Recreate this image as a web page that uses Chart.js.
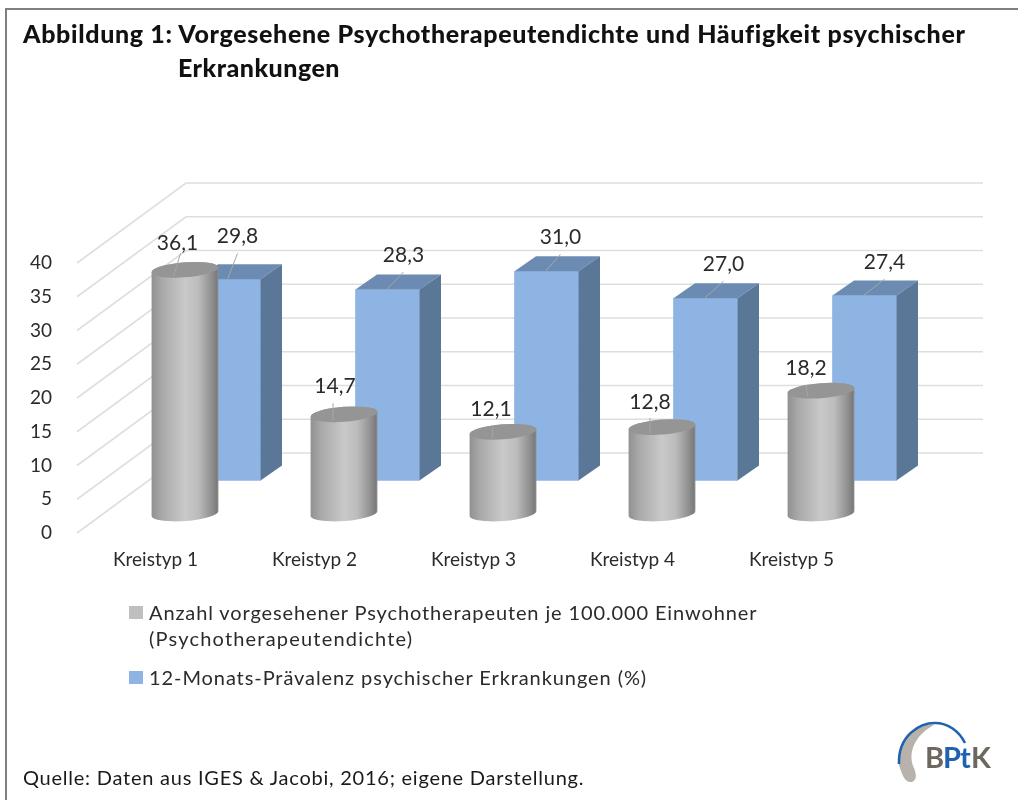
<!DOCTYPE html>
<html lang="de">
<head>
<meta charset="utf-8">
<title>Abbildung 1</title>
<script src="https://cdn.jsdelivr.net/npm/chart.js@4"></script>
<style>
    html, body { margin: 0; padding: 0; background: #fff; }
    #page { position: relative; width: 1018px; height: 800px; overflow: hidden; font-family: Lato, sans-serif; color: #2b2b2b; filter: blur(0.5px); }
    #page::before { content: ""; position: absolute; left: 5px; top: 8px; right: 0; bottom: 0; border-left: 2px solid #808080; border-top: 2px solid #808080; }
    canvas { position: absolute; left: 0; top: 0; }
    .line { position: absolute; white-space: nowrap; line-height: 1; transform: translateY(-50%); }
    .title { font-weight: 900; font-size: 25px; color: #111; }
    .legend { font-size: 20px; }
    .source { font-size: 20px; color: #1a1a1a; }
    .swatch { position: absolute; width: 14px; height: 13px; }
</style>
</head>
<body>
<div id="page">
    <canvas id="chart" width="1018" height="800"></canvas>
    <div class="line title" data-width="942" style="left:23px; top:33px">Abbildung 1: Vorgesehene Psychotherapeutendichte und Häufigkeit psychischer</div>
    <div class="line title" data-width="162" style="left:178px; top:67px">Erkrankungen</div>
    <div class="swatch" id="swatch0" style="left:129px; top:606px"></div>
    <div class="line legend" id="legend0a" data-width="608" style="left:149px; top:612px"></div>
    <div class="line legend" id="legend0b" data-width="264" style="left:149px; top:638px"></div>
    <div class="swatch" id="swatch1" style="left:129px; top:671px"></div>
    <div class="line legend" id="legend1" data-width="498" style="left:149px; top:677px"></div>
    <div class="line source" data-width="561" style="left:23px; top:777px">Quelle: Daten aus IGES &amp; Jacobi, 2016; eigene Darstellung.</div>
</div>
<script>
// values
const categories = ["Kreistyp 1", "Kreistyp 2", "Kreistyp 3", "Kreistyp 4", "Kreistyp 5"];
const therapeutenDichte = [36.1, 14.7, 12.1, 12.8, 18.2];
const praevalenz = [29.8, 28.3, 31.0, 27.0, 27.4];
const dichteName = ["Anzahl vorgesehener Psychotherapeuten je 100.000 Einwohner", "(Psychotherapeutendichte)"];
const praevalenzName = "12-Monats-Prävalenz psychischer Erkrankungen (%)";

const GRAY = "#bfbfbf";
const BLUE = "#8db4e2";
const BLUE_TOP = "#6c8bb3";
const BLUE_SIDE = "#5b7797";
const GRID = "#dedede";
const TEXT = "#2b2b2b";

// fake 3D: the axis is the front edge, the wall sits behind it
const WALL_DX = 110, WALL_DY = -80, WALL_RIGHT = 983;
const BOX_DX = 73, BOX_DY = -52.5, BOX_DEPTH_X = 21.5, BOX_DEPTH_Y = -15;
const CYL_DX = 29.5, CYL_DY = -19.5, CYL_RY = 7.5, CYL_TILT = -0.075;

// where the value labels sit relative to their bar: [dx, dy]
const boxLabelShift = [[9, -43], [16, -34.5], [14, -34], [18, -34], [20, -33.5]];
const cylLabelShift = [[-7.5, -26.5], [-9, -28], [-12, -23], [-12, -25], [-15, -22]];
// leader line of the cylinders: [start dx, end dx, end dy], relative to the label
const cylLeader = [[-4, 3, 10], [-2, -2, 17], [1, 2, 18], [0, 0, 16], [2, 0, 16]];

function comma(v) {
    return v.toFixed(1).replace(".", ",");
}

function cylinderPath(ctx, cx, top, base, rx) {
    ctx.beginPath();
    ctx.ellipse(cx, base, rx, CYL_RY, CYL_TILT, 0, Math.PI);
    ctx.ellipse(cx, top, rx, CYL_RY, CYL_TILT, Math.PI, Math.PI * 2);
    ctx.closePath();
}

function drawCylinders(ctx, meta) {
    meta.data.forEach(el => {
        const cx = el.x + CYL_DX;
        const rx = el.width / 2;
        const top = el.y + CYL_DY;
        const base = el.base + CYL_DY;

        const grad = ctx.createLinearGradient(cx - rx, 0, cx + rx, 0);
        grad.addColorStop(0, "#909090");
        grad.addColorStop(0.15, "#a8a8a8");
        grad.addColorStop(0.5, "#c9c9c9");
        grad.addColorStop(0.7, "#bcbcbc");
        grad.addColorStop(0.9, "#8f8f8f");
        grad.addColorStop(0.97, "#7c7c7c");
        grad.addColorStop(1, "#8e8e8e");
        cylinderPath(ctx, cx, top, base, rx);
        ctx.fillStyle = grad;
        ctx.fill();

        ctx.beginPath();
        ctx.ellipse(cx, top, rx, CYL_RY, CYL_TILT, 0, Math.PI * 2);
        ctx.fillStyle = "#959595";
        ctx.fill();
    });
}

function drawBoxSides(ctx, meta) {
    meta.data.forEach(el => {
        const left = el.x - el.width / 2;
        const right = el.x + el.width / 2;

        ctx.fillStyle = BLUE_TOP;
        ctx.beginPath();
        ctx.moveTo(left, el.y);
        ctx.lineTo(left + BOX_DEPTH_X, el.y + BOX_DEPTH_Y);
        ctx.lineTo(right + BOX_DEPTH_X, el.y + BOX_DEPTH_Y);
        ctx.lineTo(right, el.y);
        ctx.closePath();
        ctx.fill();

        ctx.fillStyle = BLUE_SIDE;
        ctx.beginPath();
        ctx.moveTo(right, el.y);
        ctx.lineTo(right + BOX_DEPTH_X, el.y + BOX_DEPTH_Y);
        ctx.lineTo(right + BOX_DEPTH_X, el.base + BOX_DEPTH_Y);
        ctx.lineTo(right, el.base);
        ctx.closePath();
        ctx.fill();
    });
}

function drawWallGrid(chart) {
    const ctx = chart.ctx;
    const y = chart.scales.y;
    ctx.save();
    ctx.strokeStyle = GRID;
    ctx.lineWidth = 1.6;
    y.ticks.forEach(t => {
        const py = y.getPixelForValue(t.value);
        ctx.beginPath();
        ctx.moveTo(chart.chartArea.left + 1, py);
        ctx.lineTo(chart.chartArea.left + WALL_DX, py + WALL_DY);
        ctx.lineTo(WALL_RIGHT, py + WALL_DY);
        ctx.stroke();
    });
    ctx.restore();
}

function drawValueLabels(chart) {
    const ctx = chart.ctx;
    ctx.save();
    ctx.font = "21px Lato";
    ctx.textAlign = "center";
    ctx.textBaseline = "middle";
    ctx.lineWidth = 1;

    chart.getDatasetMeta(1).data.forEach((el, i) => {
        const cx = el.x + BOX_DX;
        const top = el.y + BOX_DY;
        const lx = cx + boxLabelShift[i][0];
        const ly = top + boxLabelShift[i][1];
        ctx.strokeStyle = "#a6a6a6";
        ctx.beginPath();
        ctx.moveTo(cx - 1, top);
        ctx.lineTo(lx, ly + 17);
        ctx.stroke();
        ctx.fillStyle = TEXT;
        ctx.fillText(comma(praevalenz[i]), lx, ly);
    });

    chart.getDatasetMeta(0).data.forEach((el, i) => {
        const cx = el.x + CYL_DX;
        const top = el.y + CYL_DY;
        const lx = cx + cylLabelShift[i][0];
        const ly = top + cylLabelShift[i][1];
        ctx.strokeStyle = "#a6a6a6";
        ctx.beginPath();
        ctx.moveTo(lx + cylLeader[i][0], top + 6.5);
        ctx.lineTo(lx + cylLeader[i][1], ly + cylLeader[i][2]);
        ctx.stroke();
        ctx.fillStyle = TEXT;
        ctx.fillText(comma(therapeutenDichte[i]), lx, ly);
    });
    ctx.restore();
}

function drawLogo(ctx) {
    ctx.save();
    ctx.fillStyle = "#b7b3ac";
    ctx.beginPath();
    ctx.moveTo(899, 765);
    ctx.bezierCurveTo(903, 778, 906, 783, 912, 782);
    ctx.bezierCurveTo(918, 780, 916, 772, 913, 766);
    ctx.bezierCurveTo(908, 752, 915, 735, 934, 725);
    ctx.bezierCurveTo(915, 722, 897, 738, 899, 765);
    ctx.fill();

    ctx.strokeStyle = "#1f62ad";
    ctx.lineWidth = 2.6;
    ctx.beginPath();
    ctx.moveTo(899, 764);
    ctx.bezierCurveTo(898, 735, 920, 723, 935, 723);
    ctx.bezierCurveTo(948, 723, 959, 731, 965, 743);
    ctx.stroke();

    const letters = [["B", 925, "#6e6760"], ["P", 943, "#1f62ad"], ["t", 960, "#1f62ad"], ["K", 971, "#6e6760"]];
    ctx.font = "700 29px Lato";
    ctx.textBaseline = "alphabetic";
    letters.forEach(l => {
        ctx.fillStyle = l[2];
        ctx.fillText(l[0], l[1], 768);
    });
    ctx.restore();
}

const plugin3d = {
    id: "plugin3d",
    beforeDatasetsDraw(chart) {
        drawWallGrid(chart);
    },
    beforeDatasetDraw(chart, args) {
        chart.ctx.save();
        if (args.index === 1) {
            chart.ctx.translate(BOX_DX, BOX_DY);
        }
    },
    afterDatasetDraw(chart, args) {
        if (args.index === 1) {
            drawBoxSides(chart.ctx, args.meta);
        } else {
            drawCylinders(chart.ctx, args.meta);
        }
        chart.ctx.restore();
    },
    afterDraw(chart) {
        drawValueLabels(chart);
        drawLogo(chart.ctx);
    }
};

new Chart(document.getElementById("chart"), {
    type: "bar",
    plugins: [plugin3d],
    data: {
        labels: categories,
        datasets: [
            {
                label: dichteName.join(" "),
                data: therapeutenDichte,
                backgroundColor: "transparent",
                barThickness: 67,
                grouped: false,
                clip: false
            },
            {
                label: praevalenzName,
                data: praevalenz,
                backgroundColor: BLUE,
                barThickness: 64,
                grouped: false,
                clip: false
            }
        ]
    },
    options: {
        responsive: false,
        animation: false,
        layout: { padding: { top: 263, bottom: 217, left: 0, right: 147 } },
        plugins: {
            legend: { display: false },
            tooltip: { enabled: false }
        },
        scales: {
            x: {
                grid: { display: false },
                border: { display: false },
                afterFit(scale) { scale.height = 50; },
                ticks: { color: TEXT, font: { family: "Lato", size: 19 }, padding: 7, maxRotation: 0 }
            },
            y: {
                min: 0,
                max: 40,
                grid: { display: false },
                border: { display: false },
                afterFit(scale) { scale.width = 76; },
                ticks: { stepSize: 5, color: TEXT, font: { family: "Lato", size: 19 }, padding: 16 }
            }
        }
    }
});

document.getElementById("swatch0").style.background = GRAY;
document.getElementById("swatch1").style.background = BLUE;
document.getElementById("legend0a").textContent = dichteName[0];
document.getElementById("legend0b").textContent = dichteName[1];
document.getElementById("legend1").textContent = praevalenzName;

// Calibri is not installed, so stretch the Lato lines to the original widths
document.querySelectorAll(".line").forEach(el => {
    const gap = (Number(el.dataset.width) - el.offsetWidth) / el.textContent.length;
    el.style.letterSpacing = gap.toFixed(3) + "px";
});
</script>
</body>
</html>
